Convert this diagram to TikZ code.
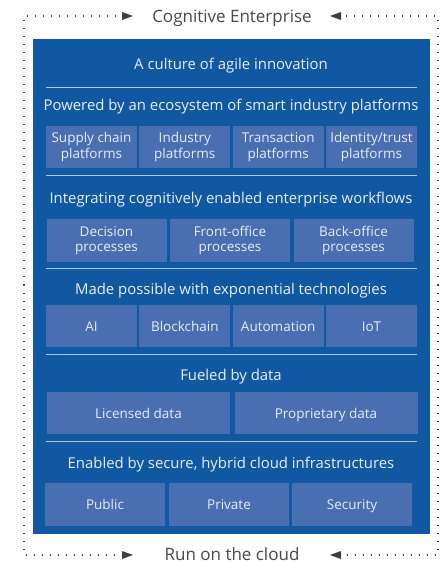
\documentclass[tikz,border=0pt]{standalone}
\usepackage{fontspec}
\setmainfont{Open Sans}
\usepackage{xcolor}
\usetikzlibrary{arrows.meta}

\definecolor{panelblue}{RGB}{17,88,163}
\definecolor{cellblue}{RGB}{73,110,177}
\definecolor{rulecol}{RGB}{178,198,228}
\definecolor{celltext}{RGB}{232,238,248}
\definecolor{labelgray}{RGB}{72,72,72}
\definecolor{dotgray}{RGB}{62,62,62}

\tikzset{
	panel/.style={fill=panelblue, inner sep=0pt},
	cell/.style={fill=cellblue, text=celltext, align=center, inner sep=0pt,
		font=\fontsize{13.5}{15.5}\selectfont},
	oneline/.style={text height=10pt, text depth=0pt},
	head/.style={text=celltext, anchor=base, font=\fontsize{14.9}{17}\selectfont},
	rule/.style={draw=rulecol, line width=1pt},
	dotline/.style={draw=dotgray, line width=1.3pt, dash pattern=on 1.3pt off 6.7pt},
	arrowhead/.style={fill=dotgray},
	frametext/.style={text=labelgray, anchor=base, font=\fontsize{17}{20}\selectfont}
}

\begin{document}
\begin{tikzpicture}[x=1pt,y=-1pt]
		\useasboundingbox (0,0) rectangle (440,563);
		%
		\node[panel, minimum width=397pt, minimum height=495pt] (P) at (231.5,286.5) {};
		%
		\node[frametext] (CE) at (232,22) {Cognitive Enterprise};
		\node[frametext] (RC) at (232,560) {Run on the cloud};
		\coordinate (L) at (24,285);
		\coordinate (R) at (438,285);
		\coordinate (CEl) at (133,16);
		\coordinate (CEr) at (330,16);
		\coordinate (RCl) at (133,555);
		\coordinate (RCr) at (330,555);
		\draw[dotline] (L) |- ([xshift=-14pt]CEl);
		\draw[dotline] (R) |- ([xshift=14pt]CEr);
		\draw[dotline] (L) |- ([xshift=-14pt]RCl);
		\draw[dotline] (R) |- ([xshift=14pt]RCr);
		\fill[arrowhead] (CEl) -- ++(-11,-4) -- ++(0,8) -- cycle;
		\fill[arrowhead] (CEr) -- ++(11,-4) -- ++(0,8) -- cycle;
		\fill[arrowhead] (RCl) -- ++(-11,-4) -- ++(0,8) -- cycle;
		\fill[arrowhead] (RCr) -- ++(11,-4) -- ++(0,8) -- cycle;
		%
		\node[head] (H0) at (231,69) {A culture of agile innovation};
		\node[head] (H1) at (231,110.5) {Powered by an ecosystem of smart industry platforms};
		\node[head] (H2) at (231,203.5) {Integrating cognitively enabled enterprise workflows};
		\node[head] (H3) at (231,294.5) {Made possible with exponential technologies};
		\node[head] (H4) at (231,380) {Fueled by data};
		\node[head] (H5) at (231,468) {Enabled by secure, hybrid cloud infrastructures};
		%
		\foreach \x/\t [count=\i] in {91.5/{Supply chain\\platforms}, 184.8/{Industry\\platforms},
			278.2/{Transaction\\platforms}, 371.5/{Identity/trust\\platforms}}
			\node[cell, minimum width=91pt, minimum height=42pt] (A\i) at (\x,147) {\t};
		\foreach \x/\t [count=\i] in {106.5/{Decision\\processes}, 230/{Front-office\\processes},
			353.5/{Back-office\\processes}}
			\node[cell, minimum width=120pt, minimum height=43pt] (B\i) at (\x,240.5) {\t};
		\foreach \x/\t [count=\i] in {91.5/AI, 184.8/Blockchain, 278.2/Automation, 371.5/IoT}
			\node[cell, oneline, minimum width=91pt, minimum height=42pt] (C\i) at (\x,326.3) {\t};
		\foreach \x/\t [count=\i] in {138.5/Licensed data, 326/Proprietary data}
			\node[cell, oneline, minimum width=183pt, minimum height=42pt] (D\i) at (\x,413) {\t};
		\foreach \x/\t [count=\i] in {105/Public, 229/Private, 352/Security}
			\node[cell, oneline, minimum width=120pt, minimum height=43pt] (E\i) at (\x,504.5) {\t};
		%
		\foreach \y in {87,175,268,354.5,441}
			\draw[rule] (46,\y) -- (417,\y);
\end{tikzpicture}
\end{document}
